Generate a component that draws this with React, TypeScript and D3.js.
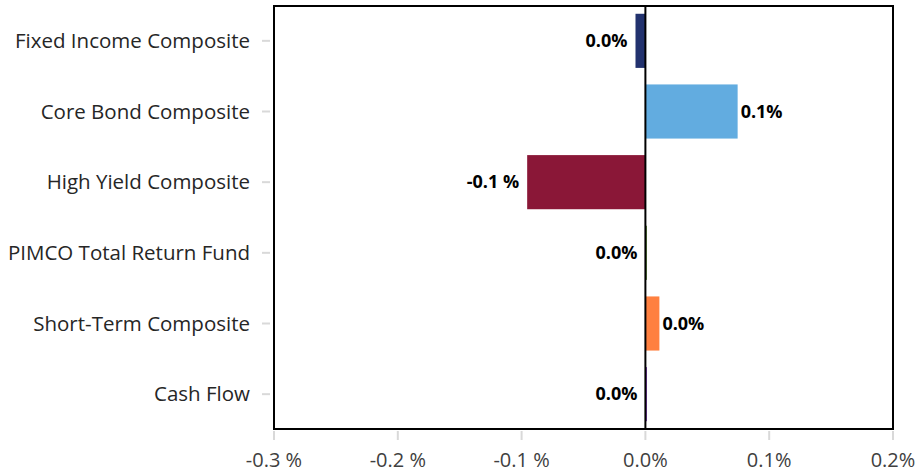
import React from "react";
import * as d3 from "d3";

const categories = [
  "Fixed Income Composite",
  "Core Bond Composite",
  "High Yield Composite",
  "PIMCO Total Return Fund",
  "Short-Term Composite",
  "Cash Flow",
];
const values = [-0.008, 0.0745, -0.0955, 0.0012, 0.0113, 0.0013];
const valueLabels = ["0.0%", "0.1%", "-0.1 %", "0.0%", "0.0%", "0.0%"];
const colors = ["#22326E", "#62ACE0", "#8A1737", "#4F7B2C", "#FF8040", "#7B3FAF"];
const xTicks = [-0.3, -0.2, -0.1, 0.0, 0.1, 0.2];
const xTickLabels = ["-0.3 %", "-0.2 %", "-0.1 %", "0.0%", "0.1%", "0.2%"];

const W = 915;
const H = 473;
const M = { left: 274, right: 893, top: 6, bottom: 429 };
const FONT = "'Open Sans', sans-serif";

export default function App() {
  const x = d3.scaleLinear().domain([-0.3, 0.2]).range([M.left, M.right]);
  const y = d3
    .scaleBand<string>()
    .domain(categories)
    .range([M.top, M.bottom])
    .paddingInner(0.234)
    .paddingOuter(0.11);
  const x0 = x(0);

  return (
    <div style={{ position: "absolute", left: 0, top: 0 }}>
      <svg width={W} height={H} style={{ display: "block", background: "#fff" }}>
        {xTicks.map((t) => (
          <line key={"xt" + t} x1={x(t)} x2={x(t)} y1={M.bottom + 2} y2={M.bottom + 11} stroke="#d9d9d9" strokeWidth={2} />
        ))}
        {xTicks.map((t, i) => (
          <text
            key={"xl" + t}
            x={x(t)}
            y={467}
            textAnchor="middle"
            fontFamily={FONT}
            fontSize={20}
            fill="#404040"
          >
            {xTickLabels[i]}
          </text>
        ))}
        {categories.map((c) => {
          const cy = (y(c) as number) + y.bandwidth() / 2;
          return (
            <g key={"yl" + c}>
              <line x1={262} x2={270} y1={cy} y2={cy} stroke="#d9d9d9" strokeWidth={2} />
              <text
                x={250}
                y={cy}
                dy="0.35em"
                textAnchor="end"
                fontFamily={FONT}
                fontSize={20.5}
                fill="#262626"
              >
                {c}
              </text>
            </g>
          );
        })}
        {categories.map((c, i) => {
          const v = values[i];
          const bx = Math.min(x(v), x0);
          const bw = Math.abs(x(v) - x0);
          return (
            <rect key={"b" + c} x={bx} y={y(c)} width={bw} height={y.bandwidth()} fill={colors[i]} />
          );
        })}
        <rect
          x={M.left}
          y={M.top}
          width={M.right - M.left}
          height={M.bottom - M.top}
          fill="none"
          stroke="#000"
          strokeWidth={2}
        />
        <line x1={x0} x2={x0} y1={M.top} y2={M.bottom} stroke="#000" strokeWidth={2} />
        {categories.map((c, i) => {
          const v = values[i];
          const cy = (y(c) as number) + y.bandwidth() / 2;
          const left = v < 0.005;
          const tx = left ? Math.min(x(v), x0) - 8 : x(v) + 3;
          return (
            <text
              key={"v" + c}
              x={tx}
              y={cy}
              dy="0.35em"
              textAnchor={left ? "end" : "start"}
              fontFamily={FONT}
              fontSize={18}
              fontWeight="bold"
              fill="#000"
            >
              {valueLabels[i]}
            </text>
          );
        })}
      </svg>
    </div>
  );
}
